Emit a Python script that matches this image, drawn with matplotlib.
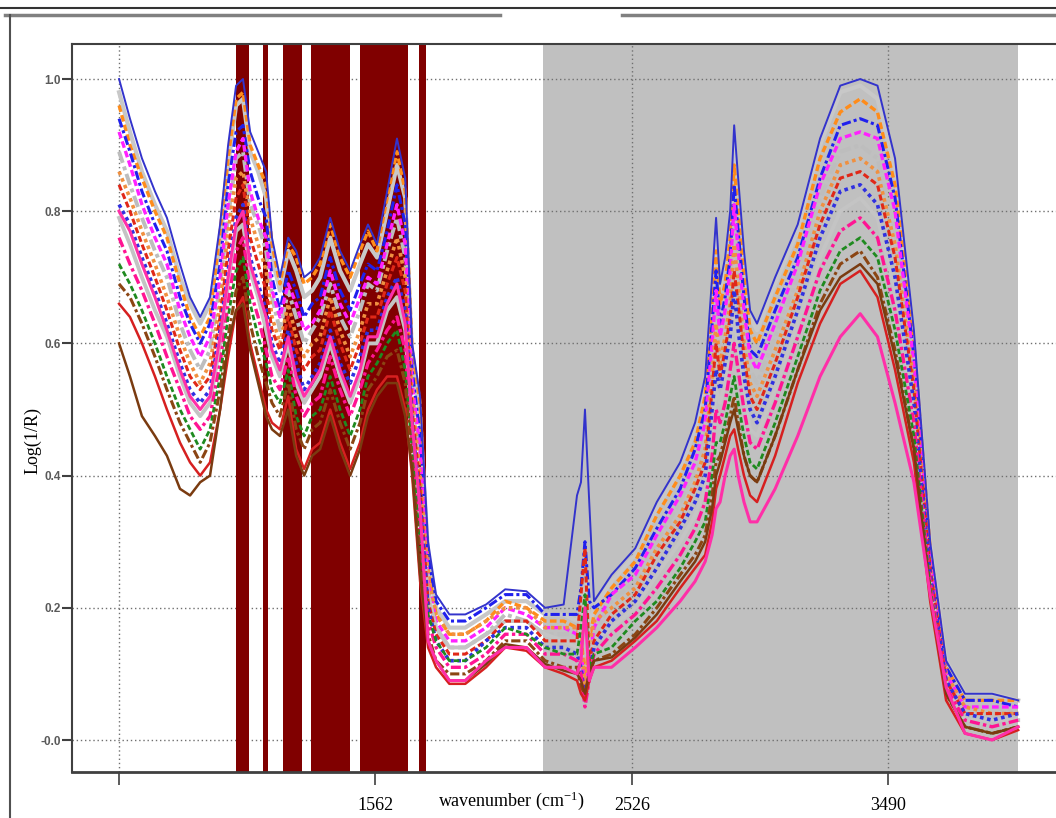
import matplotlib.pyplot as plt
from matplotlib.lines import Line2D

plt.rcParams['mathtext.fontset'] = 'stix'

# wavenumber grid (cm-1)
wn = [598, 639, 684, 733, 778, 827, 865, 903, 940, 978,
      1008, 1038, 1064, 1091, 1121, 1151, 1173, 1203, 1234, 1264,
      1294, 1324, 1354, 1392, 1429, 1467, 1504, 1534, 1568, 1606,
      1643, 1674, 1700, 1730, 1760, 1790, 1840, 1900, 1978, 2050,
      2130, 2200, 2270, 2320, 2335, 2350, 2366, 2384, 2450, 2539,
      2620, 2708, 2764, 2802, 2828, 2843, 2858, 2877, 2896, 2911,
      2926, 2948, 2971, 2997, 3065, 3150, 3234, 3310, 3385, 3450,
      3516, 3587, 3648, 3708, 3779, 3881, 3979]

# Log(1/R) spectra
sp_top = [1.00, 0.94, 0.88, 0.83, 0.79, 0.72, 0.67, 0.64, 0.67, 0.78,
          0.90, 0.99, 1.00, 0.92, 0.89, 0.86, 0.76, 0.70, 0.76, 0.74,
          0.70, 0.71, 0.73, 0.79, 0.74, 0.71, 0.75, 0.78, 0.75, 0.83,
          0.91, 0.85, 0.60, 0.52, 0.30, 0.22, 0.19, 0.19, 0.205, 0.228,
          0.225, 0.20, 0.205, 0.37, 0.39, 0.50, 0.36, 0.21, 0.25, 0.29,
          0.36, 0.42, 0.48, 0.55, 0.70, 0.79, 0.69, 0.73, 0.80, 0.93,
          0.85, 0.74, 0.65, 0.63, 0.70, 0.78, 0.91, 0.99, 1.00, 0.99,
          0.88, 0.62, 0.30, 0.12, 0.07, 0.07, 0.06]
sp_bot = [0.66, 0.64, 0.60, 0.55, 0.50, 0.45, 0.42, 0.40, 0.42, 0.50,
          0.58, 0.65, 0.67, 0.60, 0.55, 0.50, 0.48, 0.47, 0.52, 0.44,
          0.41, 0.44, 0.45, 0.50, 0.45, 0.41, 0.45, 0.50, 0.53, 0.55,
          0.55, 0.50, 0.40, 0.24, 0.14, 0.11, 0.085, 0.085, 0.11, 0.14,
          0.135, 0.11, 0.10, 0.09, 0.07, 0.06, 0.09, 0.11, 0.12, 0.15,
          0.18, 0.23, 0.26, 0.28, 0.33, 0.38, 0.40, 0.43, 0.46, 0.47,
          0.44, 0.40, 0.37, 0.36, 0.43, 0.54, 0.63, 0.69, 0.71, 0.67,
          0.56, 0.42, 0.21, 0.06, 0.01, 0.00, 0.015]
sp01 = [0.98, 0.92, 0.86, 0.81, 0.77, 0.70, 0.66, 0.63, 0.66, 0.75,
        0.87, 0.96, 0.97, 0.89, 0.86, 0.82, 0.73, 0.68, 0.74, 0.71,
        0.67, 0.68, 0.70, 0.76, 0.71, 0.68, 0.72, 0.75, 0.73, 0.80,
        0.87, 0.82, 0.58, 0.49, 0.28, 0.20, 0.17, 0.17, 0.19, 0.21,
        0.21, 0.19, 0.19, 0.18, 0.20, 0.27, 0.17, 0.20, 0.24, 0.28,
        0.35, 0.41, 0.47, 0.54, 0.68, 0.77, 0.68, 0.72, 0.78, 0.91,
        0.83, 0.72, 0.64, 0.62, 0.69, 0.77, 0.90, 0.98, 0.99, 0.97,
        0.86, 0.61, 0.30, 0.12, 0.07, 0.07, 0.06]
sp02 = [0.96, 0.90, 0.85, 0.80, 0.76, 0.69, 0.64, 0.61, 0.64, 0.77,
        0.88, 0.97, 0.98, 0.90, 0.87, 0.84, 0.75, 0.69, 0.75, 0.73,
        0.69, 0.70, 0.72, 0.78, 0.73, 0.70, 0.74, 0.77, 0.74, 0.82,
        0.89, 0.83, 0.59, 0.51, 0.26, 0.19, 0.16, 0.16, 0.18, 0.21,
        0.20, 0.18, 0.18, 0.17, 0.16, 0.09, 0.15, 0.19, 0.23, 0.27,
        0.34, 0.40, 0.45, 0.52, 0.66, 0.74, 0.66, 0.69, 0.76, 0.87,
        0.80, 0.70, 0.62, 0.60, 0.67, 0.75, 0.88, 0.95, 0.97, 0.95,
        0.84, 0.60, 0.29, 0.11, 0.06, 0.06, 0.06]
sp03 = [0.94, 0.89, 0.83, 0.78, 0.74, 0.67, 0.63, 0.60, 0.63, 0.72,
        0.84, 0.92, 0.93, 0.86, 0.82, 0.79, 0.70, 0.65, 0.71, 0.68,
        0.64, 0.66, 0.67, 0.73, 0.68, 0.65, 0.69, 0.72, 0.71, 0.77,
        0.84, 0.78, 0.56, 0.46, 0.28, 0.21, 0.18, 0.18, 0.20, 0.22,
        0.22, 0.19, 0.19, 0.19, 0.23, 0.30, 0.21, 0.20, 0.22, 0.26,
        0.32, 0.38, 0.44, 0.50, 0.63, 0.71, 0.63, 0.67, 0.73, 0.84,
        0.77, 0.67, 0.59, 0.58, 0.65, 0.73, 0.85, 0.93, 0.94, 0.93,
        0.82, 0.58, 0.28, 0.11, 0.06, 0.06, 0.05]
sp04 = [0.92, 0.87, 0.81, 0.76, 0.72, 0.65, 0.61, 0.58, 0.61, 0.70,
        0.81, 0.89, 0.91, 0.83, 0.79, 0.76, 0.68, 0.64, 0.69, 0.66,
        0.62, 0.63, 0.65, 0.71, 0.66, 0.63, 0.67, 0.70, 0.69, 0.75,
        0.81, 0.75, 0.54, 0.44, 0.24, 0.18, 0.15, 0.15, 0.17, 0.20,
        0.19, 0.17, 0.17, 0.16, 0.14, 0.07, 0.12, 0.17, 0.22, 0.25,
        0.31, 0.37, 0.42, 0.48, 0.60, 0.68, 0.61, 0.65, 0.71, 0.81,
        0.74, 0.65, 0.58, 0.56, 0.63, 0.72, 0.84, 0.91, 0.92, 0.91,
        0.80, 0.57, 0.28, 0.10, 0.05, 0.05, 0.05]
sp05 = [0.89, 0.84, 0.79, 0.74, 0.70, 0.63, 0.59, 0.56, 0.59, 0.69,
        0.79, 0.88, 0.89, 0.81, 0.78, 0.74, 0.67, 0.62, 0.68, 0.64,
        0.60, 0.62, 0.64, 0.69, 0.64, 0.61, 0.65, 0.69, 0.68, 0.74,
        0.79, 0.73, 0.53, 0.43, 0.23, 0.17, 0.14, 0.14, 0.16, 0.19,
        0.18, 0.16, 0.16, 0.16, 0.20, 0.26, 0.15, 0.16, 0.21, 0.24,
        0.30, 0.36, 0.41, 0.46, 0.58, 0.65, 0.59, 0.63, 0.69, 0.78,
        0.71, 0.63, 0.56, 0.54, 0.61, 0.70, 0.82, 0.89, 0.90, 0.88,
        0.77, 0.55, 0.27, 0.10, 0.05, 0.05, 0.04]
sp06 = [0.86, 0.82, 0.77, 0.72, 0.67, 0.61, 0.57, 0.54, 0.57, 0.66,
        0.77, 0.85, 0.86, 0.79, 0.75, 0.71, 0.64, 0.60, 0.66, 0.61,
        0.58, 0.60, 0.61, 0.67, 0.62, 0.58, 0.62, 0.66, 0.66, 0.71,
        0.76, 0.70, 0.52, 0.40, 0.25, 0.19, 0.16, 0.16, 0.18, 0.20,
        0.20, 0.17, 0.17, 0.17, 0.15, 0.08, 0.14, 0.18, 0.20, 0.23,
        0.29, 0.34, 0.39, 0.44, 0.55, 0.63, 0.57, 0.61, 0.66, 0.75,
        0.69, 0.60, 0.54, 0.52, 0.59, 0.68, 0.80, 0.87, 0.88, 0.86,
        0.75, 0.54, 0.26, 0.10, 0.05, 0.04, 0.04]
sp07 = [0.84, 0.80, 0.75, 0.70, 0.65, 0.59, 0.55, 0.53, 0.55, 0.64,
        0.74, 0.82, 0.84, 0.76, 0.72, 0.68, 0.62, 0.59, 0.64, 0.59,
        0.56, 0.58, 0.59, 0.65, 0.60, 0.56, 0.60, 0.64, 0.64, 0.69,
        0.73, 0.68, 0.50, 0.38, 0.21, 0.16, 0.13, 0.13, 0.15, 0.18,
        0.18, 0.15, 0.15, 0.15, 0.22, 0.29, 0.12, 0.15, 0.19, 0.22,
        0.28, 0.33, 0.38, 0.42, 0.53, 0.60, 0.55, 0.59, 0.64, 0.71,
        0.66, 0.58, 0.52, 0.50, 0.57, 0.67, 0.78, 0.85, 0.86, 0.84,
        0.73, 0.53, 0.26, 0.09, 0.04, 0.04, 0.04]
sp08 = [0.81, 0.78, 0.73, 0.68, 0.63, 0.57, 0.53, 0.51, 0.53, 0.62,
        0.71, 0.79, 0.81, 0.73, 0.69, 0.65, 0.60, 0.57, 0.62, 0.57,
        0.53, 0.55, 0.57, 0.62, 0.57, 0.54, 0.58, 0.62, 0.62, 0.67,
        0.70, 0.65, 0.48, 0.36, 0.20, 0.15, 0.12, 0.12, 0.15, 0.17,
        0.17, 0.14, 0.14, 0.13, 0.11, 0.06, 0.10, 0.14, 0.18, 0.21,
        0.26, 0.32, 0.36, 0.40, 0.50, 0.56, 0.53, 0.57, 0.61, 0.68,
        0.62, 0.55, 0.50, 0.48, 0.55, 0.65, 0.76, 0.83, 0.84, 0.81,
        0.70, 0.51, 0.25, 0.09, 0.04, 0.03, 0.04]
sp09 = [0.79, 0.75, 0.70, 0.65, 0.61, 0.55, 0.51, 0.49, 0.51, 0.60,
        0.69, 0.77, 0.78, 0.71, 0.67, 0.62, 0.58, 0.55, 0.60, 0.54,
        0.51, 0.53, 0.55, 0.60, 0.55, 0.51, 0.55, 0.60, 0.60, 0.65,
        0.67, 0.62, 0.47, 0.34, 0.22, 0.17, 0.14, 0.14, 0.16, 0.18,
        0.18, 0.16, 0.15, 0.14, 0.18, 0.24, 0.13, 0.15, 0.17, 0.20,
        0.25, 0.30, 0.34, 0.38, 0.47, 0.53, 0.51, 0.54, 0.59, 0.64,
        0.59, 0.53, 0.47, 0.46, 0.53, 0.63, 0.73, 0.80, 0.82, 0.79,
        0.68, 0.49, 0.24, 0.08, 0.03, 0.03, 0.03]
sp10 = [0.76, 0.72, 0.68, 0.63, 0.58, 0.53, 0.49, 0.47, 0.49, 0.57,
        0.66, 0.74, 0.76, 0.68, 0.64, 0.59, 0.55, 0.53, 0.58, 0.52,
        0.49, 0.51, 0.52, 0.58, 0.53, 0.49, 0.53, 0.57, 0.59, 0.62,
        0.64, 0.59, 0.45, 0.31, 0.18, 0.14, 0.11, 0.11, 0.13, 0.16,
        0.16, 0.13, 0.13, 0.12, 0.10, 0.05, 0.09, 0.13, 0.16, 0.19,
        0.23, 0.28, 0.32, 0.36, 0.43, 0.50, 0.48, 0.51, 0.56, 0.60,
        0.56, 0.50, 0.45, 0.44, 0.51, 0.61, 0.71, 0.77, 0.79, 0.76,
        0.65, 0.48, 0.24, 0.08, 0.03, 0.02, 0.03]
sp11 = [0.72, 0.69, 0.65, 0.60, 0.55, 0.50, 0.47, 0.44, 0.47, 0.55,
        0.64, 0.71, 0.73, 0.66, 0.61, 0.57, 0.53, 0.51, 0.56, 0.49,
        0.46, 0.49, 0.50, 0.55, 0.50, 0.46, 0.50, 0.55, 0.57, 0.60,
        0.62, 0.56, 0.44, 0.29, 0.19, 0.15, 0.12, 0.12, 0.14, 0.17,
        0.16, 0.14, 0.13, 0.13, 0.17, 0.22, 0.11, 0.13, 0.14, 0.18,
        0.21, 0.26, 0.30, 0.33, 0.40, 0.45, 0.45, 0.48, 0.52, 0.55,
        0.51, 0.46, 0.42, 0.41, 0.48, 0.58, 0.68, 0.74, 0.76, 0.73,
        0.62, 0.46, 0.23, 0.07, 0.02, 0.01, 0.02]
sp12 = [0.69, 0.67, 0.63, 0.58, 0.53, 0.48, 0.45, 0.42, 0.45, 0.53,
        0.61, 0.68, 0.70, 0.63, 0.58, 0.54, 0.51, 0.49, 0.54, 0.47,
        0.44, 0.47, 0.48, 0.53, 0.48, 0.44, 0.48, 0.53, 0.55, 0.58,
        0.59, 0.54, 0.42, 0.27, 0.16, 0.12, 0.10, 0.10, 0.12, 0.15,
        0.15, 0.12, 0.11, 0.11, 0.08, 0.07, 0.10, 0.12, 0.13, 0.16,
        0.20, 0.25, 0.28, 0.31, 0.37, 0.42, 0.43, 0.46, 0.49, 0.52,
        0.48, 0.43, 0.40, 0.39, 0.46, 0.56, 0.66, 0.72, 0.74, 0.70,
        0.59, 0.44, 0.22, 0.07, 0.02, 0.01, 0.02]
sp_pink = [0.80, 0.77, 0.72, 0.67, 0.62, 0.56, 0.52, 0.50, 0.52, 0.61,
           0.70, 0.78, 0.80, 0.72, 0.68, 0.64, 0.59, 0.56, 0.61, 0.55,
           0.52, 0.54, 0.56, 0.61, 0.56, 0.52, 0.56, 0.61, 0.61, 0.66,
           0.69, 0.63, 0.48, 0.35, 0.15, 0.12, 0.09, 0.09, 0.12, 0.14,
           0.14, 0.11, 0.11, 0.10, 0.12, 0.20, 0.09, 0.11, 0.11, 0.14,
           0.17, 0.21, 0.24, 0.27, 0.31, 0.35, 0.36, 0.40, 0.43, 0.44,
           0.40, 0.36, 0.33, 0.33, 0.38, 0.46, 0.55, 0.61, 0.645, 0.61,
           0.51, 0.39, 0.22, 0.08, 0.01, 0.00, 0.02]
sp_low = [0.60, 0.55, 0.49, 0.46, 0.43, 0.38, 0.37, 0.39, 0.40, 0.50,
          0.60, 0.65, 0.66, 0.59, 0.54, 0.49, 0.47, 0.46, 0.50, 0.43,
          0.40, 0.43, 0.44, 0.49, 0.44, 0.40, 0.44, 0.49, 0.52, 0.54,
          0.54, 0.49, 0.41, 0.25, 0.15, 0.12, 0.09, 0.09, 0.115, 0.145,
          0.14, 0.115, 0.105, 0.10, 0.09, 0.07, 0.10, 0.12, 0.125, 0.155,
          0.19, 0.24, 0.27, 0.30, 0.35, 0.40, 0.42, 0.45, 0.48, 0.50,
          0.47, 0.43, 0.40, 0.39, 0.46, 0.56, 0.65, 0.70, 0.72, 0.69,
          0.58, 0.44, 0.22, 0.07, 0.02, 0.01, 0.02]

# excluded / selected wavenumber ranges
red_bands = [(1038, 1087), (1139, 1158), (1215, 1286), (1320, 1467),
             (1504, 1685), (1726, 1752)]
grey_range = (2192, 3979)

xticks = [598, 1562, 2526, 3490]
xticklabels = ['', '1562', '2526', '3490']
yticks = [0.0, 0.2, 0.4, 0.6, 0.8, 1.0]
yticklabels = ['-0.0', '0.2', '0.4', '0.6', '0.8', '1.0']

fig = plt.figure(figsize=(10.56, 8.18), dpi=100)
ax = fig.add_axes([72/1056, 46/818, 1031/1056, 728/818])

ax.axvspan(grey_range[0], grey_range[1], color='#c0c0c0', lw=0, zorder=0.2)
for a, b in red_bands:
    ax.axvspan(a, b, color='#800000', lw=0, zorder=1)

lines = [
    (sp01, '#c8c8c8', '-', 3.0),
    (sp02, '#ff8c1a', (0, (2, 1)), 2.4),
    (sp05, '#bdbdbd', (0, (3, 1, 1, 1)), 2.8),
    (sp03, '#2020ee', (0, (3, 1, 1, 1)), 2.2),
    (sp04, '#ff20ff', (0, (2, 1)), 2.4),
    (sp06, '#f09040', (0, (1, 1)), 2.6),
    (sp09, '#c4c4c4', '-', 2.8),
    (sp07, '#e02818', (0, (2, 1)), 2.2),
    (sp08, '#3030e0', (0, (1, 1)), 2.6),
    (sp10, '#ff1493', (0, (3, 1, 1, 1)), 2.4),
    (sp11, '#1f8a1f', (0, (2, 1)), 2.0),
    (sp12, '#8b4513', (0, (3, 1, 1, 1)), 2.2),
    (sp_bot, '#d62020', '-', 1.8),
    (sp_low, '#7a3b10', '-', 1.8),
    (sp_pink, '#ff2fa8', '-', 2.2),
    (sp_top, '#3333cc', '-', 1.4),
]
for vals, col, ls, lw in lines:
    ax.plot(wn, vals, color=col, ls=ls, lw=lw, zorder=3)

ax.set_xlim(421, 4298)
ax.set_ylim(-0.0484, 1.053)
ax.set_axisbelow(True)
ax.grid(True, ls=(0, (1, 2)), color='#707070', lw=1)

ax.set_xticks(xticks)
ax.set_xticklabels(xticklabels, fontfamily='Liberation Serif', fontsize=13)
ax.set_yticks(yticks)
ax.set_yticklabels(yticklabels, fontfamily='Liberation Sans', fontsize=8.5,
                   fontweight='bold', color='#5a5a5a')
ax.tick_params(axis='x', direction='out', length=9, width=1.2,
               color='#404040', pad=9)
ax.tick_params(axis='y', direction='out', length=7, width=1.5,
               color='#404040', pad=1)
for s in ax.spines.values():
    s.set_color('#404040')
    s.set_linewidth(1.5)
ax.spines['bottom'].set_linewidth(2)

fig.text(33/1056, 1 - 440/818, 'Log(1/R)', rotation=90, ha='center',
         va='center', family='Liberation Serif', size=13)
fig.text(512/1056, 1 - 801/818, r'wavenumber (cm$^{\mathregular{-1}}$)',
         ha='center', va='center', family='Liberation Serif', size=13)

# window frame around the plot
fig.add_artist(Line2D([0, 1], [1 - 8/818] * 2, color='#333333', lw=1.5,
                      transform=fig.transFigure))
fig.add_artist(Line2D([5/1056, 500/1056], [1 - 15/818] * 2, color='#808080',
                      lw=2.5, transform=fig.transFigure))
fig.add_artist(Line2D([622/1056, 1], [1 - 15/818] * 2, color='#808080',
                      lw=2.5, transform=fig.transFigure))
fig.add_artist(Line2D([10/1056] * 2, [0, 1 - 15/818], color='#505050',
                      lw=1.5, transform=fig.transFigure))

fig.savefig('out.png', dpi=100)
